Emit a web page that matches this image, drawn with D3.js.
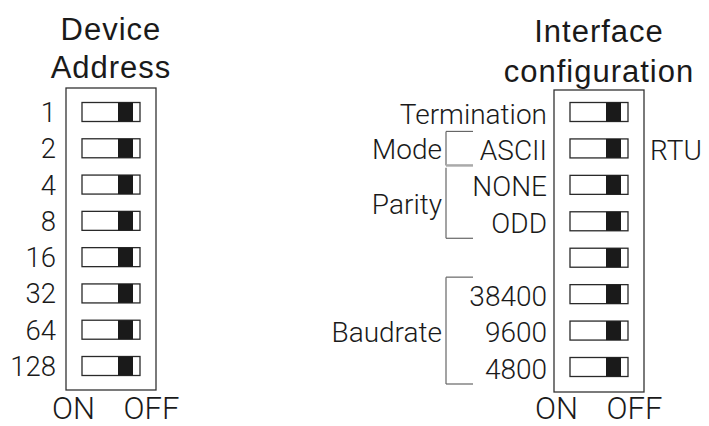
<!DOCTYPE html>
<html><head><meta charset="utf-8">
<script src="https://cdn.jsdelivr.net/npm/d3@7"></script>
<style>body{margin:0;background:#fff} svg{display:block}</style>
</head><body><svg id="c" width="709" height="426"></svg>
<script>
// ---- data ----
const addressLabels = ["1","2","4","8","16","32","64","128"];
const addressStates = ["OFF","OFF","OFF","OFF","OFF","OFF","OFF","OFF"];
const interfaceLabels = ["Termination","ASCII","NONE","ODD","","38400","9600","4800"];
const interfaceRightLabels = ["","RTU","","","","","",""];
const interfaceStates = ["OFF","OFF","OFF","OFF","OFF","OFF","OFF","OFF"];
const groupNames = ["Mode","Parity","Baudrate"];
const groupStart = [1,2,5];
const groupEnd = [1,3,7];
const leftTitle = ["Device","Address"];
const rightTitle = ["Interface","configuration"];
const positionLabels = ["ON","OFF"];

const svg = d3.select("#c");
const LIGHT = "'Roboto', 'Liberation Sans', sans-serif";
const REG = "'Liberation Sans', Arial, sans-serif";
const ink = "#1a1a1a";

function panel(cfg){
  const g = svg.append("g");
  const y = d3.scaleLinear().domain([0, 7]).range(cfg.yRange);
  const sw = 58, sh = 19;
  const knob = d3.scalePoint().domain(positionLabels).range([cfg.swX + 7, cfg.swX + 36]);
  // box
  g.append("rect").attr("x", cfg.boxX).attr("y", cfg.boxTop)
    .attr("width", cfg.boxW).attr("height", cfg.boxBottom - cfg.boxTop)
    .attr("fill", "none").attr("stroke", "#333").attr("stroke-width", 1.3);
  // switches
  const rows = g.selectAll(".sw").data(cfg.states).join("g").attr("class","sw");
  rows.append("rect").attr("x", cfg.swX).attr("y", (d,i) => y(i) - sh/2)
    .attr("width", sw).attr("height", sh).attr("fill", "#fff")
    .attr("stroke", "#2a2a2a").attr("stroke-width", 1.3);
  rows.append("rect").attr("x", d => knob(d)).attr("y", (d,i) => y(i) - sh/2)
    .attr("width", 15).attr("height", sh).attr("fill", "#1a1a1a");
  // labels
  g.selectAll(".lbl").data(cfg.labels).join("text").attr("class","lbl")
    .attr("x", cfg.labelX).attr("y", (d,i) => y(i) + cfg.labelDy)
    .attr("text-anchor", "end").attr("font-family", LIGHT).attr("font-weight", 300)
    .attr("font-size", cfg.labelSize).attr("fill", ink).text(d => d);
  // titles
  g.selectAll(".ttl").data(cfg.title).join("text").attr("class","ttl")
    .attr("x", cfg.boxX + cfg.boxW/2).attr("y", (d,i) => cfg.titleY[i])
    .attr("text-anchor", "middle").attr("font-family", REG)
    .attr("font-size", 31).attr("letter-spacing", 1).attr("fill", ink).text(d => d);
  // ON / OFF
  g.selectAll(".pos").data(positionLabels).join("text").attr("class","pos")
    .attr("x", (d,i) => cfg.posX[i]).attr("y", 419)
    .attr("text-anchor", "middle").attr("font-family", LIGHT).attr("font-weight", 300)
    .attr("font-size", 31).attr("fill", ink).text(d => d);
  return {g, y};
}

panel({
  yRange: [112, 366], boxX: 66, boxW: 90, boxTop: 88, boxBottom: 390, swX: 82,
  states: addressStates, labels: addressLabels, labelX: 56, labelDy: 10, labelSize: 27.5,
  title: leftTitle, titleY: [39.5, 78], posX: [73.5, 151.5]
});
const R = panel({
  yRange: [112, 367], boxX: 554, boxW: 90, boxTop: 90, boxBottom: 392, swX: 570,
  states: interfaceStates, labels: interfaceLabels, labelX: 547, labelDy: 11.5, labelSize: 28,
  title: rightTitle, titleY: [42, 82], posX: [556.5, 634.5]
});

// right-side labels (RTU)
R.g.selectAll(".rl").data(interfaceRightLabels).join("text").attr("class","rl")
  .attr("x", 650).attr("y", (d,i) => R.y(i) + 11.5)
  .attr("font-family", LIGHT).attr("font-weight", 300)
  .attr("font-size", 28).attr("fill", ink).text(d => d);

// group brackets
const bx = 446, bx2 = 473;
groupNames.forEach((name, k) => {
  const top = R.y(groupStart[k]) - 17, bot = R.y(groupEnd[k]) + 17;
  R.g.append("line").attr("x1", bx).attr("x2", bx).attr("y1", top).attr("y2", bot)
    .attr("stroke", "#666").attr("stroke-width", 1.2);
  const adjPrev = k > 0 && groupEnd[k-1] + 1 === groupStart[k];
  const adjNext = k < groupNames.length - 1 && groupEnd[k] + 1 === groupStart[k+1];
  if (!adjPrev) R.g.append("line").attr("x1", bx).attr("x2", bx2).attr("y1", top).attr("y2", top)
    .attr("stroke", "#666").attr("stroke-width", 1.2);
  R.g.append("line").attr("x1", bx).attr("x2", bx2).attr("y1", bot).attr("y2", bot)
    .attr("stroke", adjNext ? "#aaa" : "#666").attr("stroke-width", adjNext ? 2.5 : 1.2);
  R.g.append("text").attr("x", bx - 4).attr("y", (top + bot)/2 + 11)
    .attr("text-anchor", "end").attr("font-family", LIGHT).attr("font-weight", 300)
    .attr("font-size", 28).attr("fill", ink).text(name);
});
</script></body></html>
